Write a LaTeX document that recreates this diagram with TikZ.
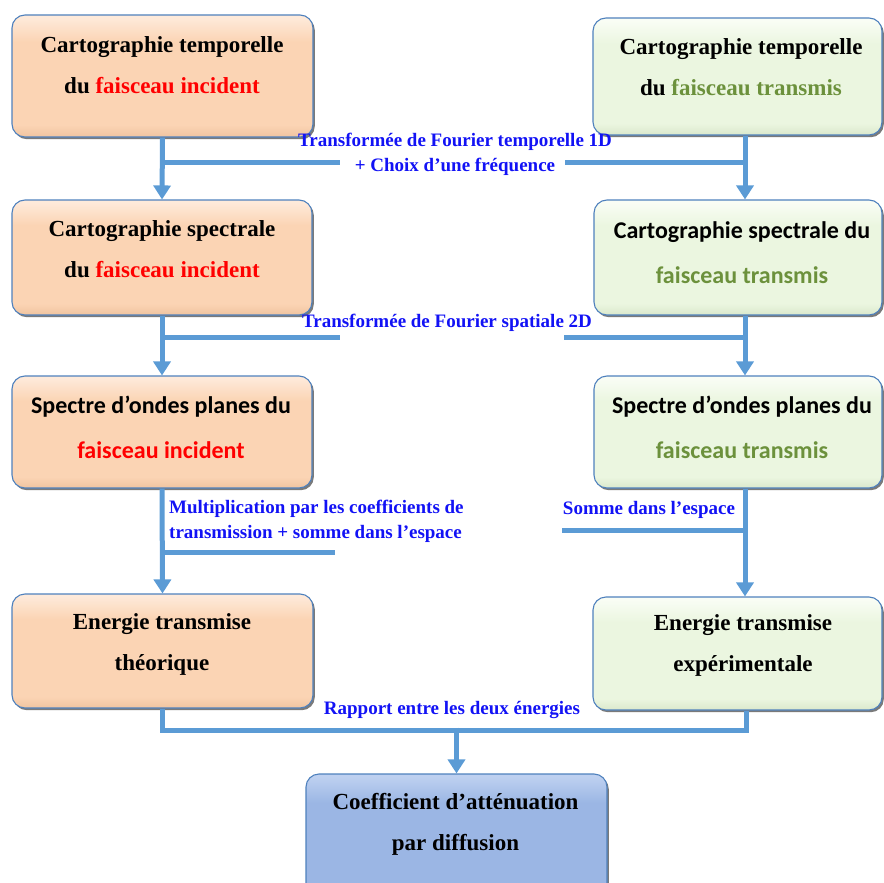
\documentclass[tikz,border=0pt]{standalone}
\usepackage{fontspec}
\setmainfont{Liberation Serif}
\newfontfamily\calib{Carlito}
\usetikzlibrary{arrows.meta,shadows}
\definecolor{peachT}{RGB}{254,234,218}
\definecolor{peachB}{RGB}{251,212,180}
\definecolor{peachD}{RGB}{240,196,160}
\definecolor{greenT}{RGB}{249,253,245}
\definecolor{greenB}{RGB}{235,246,224}
\definecolor{greenD}{RGB}{218,232,204}
\definecolor{blueT}{RGB}{190,208,240}
\definecolor{blueB}{RGB}{155,182,228}
\definecolor{blueD}{RGB}{138,165,212}
\definecolor{edgeblue}{RGB}{79,129,189}
\definecolor{connblue}{RGB}{91,155,213}
\definecolor{lblblue}{RGB}{18,18,245}
\definecolor{txtred}{RGB}{255,0,0}
\definecolor{txtgreen}{RGB}{108,145,60}
\pgfdeclareverticalshading{peachsh}{100bp}{color(0bp)=(peachD); color(25bp)=(peachD); color(30bp)=(peachB); color(64bp)=(peachB); color(74bp)=(peachT); color(100bp)=(peachT)}
\pgfdeclareverticalshading{greensh}{100bp}{color(0bp)=(greenD); color(25bp)=(greenD); color(30bp)=(greenB); color(64bp)=(greenB); color(74bp)=(greenT); color(100bp)=(greenT)}
\pgfdeclareverticalshading{bluesh}{100bp}{color(0bp)=(blueD); color(25bp)=(blueD); color(30bp)=(blueB); color(64bp)=(blueB); color(74bp)=(blueT); color(100bp)=(blueT)}
\tikzset{
  boxbase/.style={draw=edgeblue, line width=1.1pt, rounded corners=13pt,
    drop shadow={shadow xshift=1.8pt, shadow yshift=-2.2pt, opacity=0.65, fill=black!80}},
  lbox/.style={boxbase, shading=peachsh},
  rbox/.style={boxbase, shading=greensh},
  bbox/.style={boxbase, shading=bluesh},
  stxt/.style={align=center, inner sep=0pt, font=\fontsize{23}{41}\selectfont\bfseries},
  ctxt/.style={align=center, inner sep=0pt, font=\calib\fontsize{24}{45}\selectfont\bfseries},
  lbl/.style={inner sep=0pt, text=lblblue, font=\fontsize{19}{25}\selectfont\bfseries},
  conn/.style={draw=connblue, line width=5pt},
  arr/.style={conn, -{Triangle[width=17pt,length=14pt]}}
}
\begin{document}
\begin{tikzpicture}[x=1pt,y=-1pt]
\clip (0,0) rectangle (884,883);
\useasboundingbox (0,0) rectangle (884,883);
% boxes
\node[lbox, minimum width=301pt, minimum height=122pt] (L1) at (162.5,76) {};
\node[lbox, minimum width=300pt, minimum height=115pt] (L2) at (162,257.5) {};
\node[lbox, minimum width=300pt, minimum height=112pt] (L3) at (162,432) {};
\node[lbox, minimum width=301pt, minimum height=114pt] (L4) at (162.5,651) {};
\node[rbox, minimum width=289pt, minimum height=117pt] (R1) at (737.5,76.5) {};
\node[rbox, minimum width=288pt, minimum height=115pt] (R2) at (738,257.5) {};
\node[rbox, minimum width=288pt, minimum height=112pt] (R3) at (738,432) {};
\node[rbox, minimum width=289pt, minimum height=113pt] (R4) at (737.5,653.5) {};
\node[bbox, minimum width=301pt, minimum height=130pt] (B) at (456.5,839) {};
% box texts
\node[stxt] (L1t) at (162,65) {Cartographie temporelle\\du \textcolor{txtred}{faisceau incident}};
\node[stxt] (L2t) at (162,249.5) {Cartographie spectrale\\du \textcolor{txtred}{faisceau incident}};
\node[ctxt] (L3t) at (161,427) {Spectre d’ondes planes du\\\textcolor{txtred}{faisceau incident}};
\node[stxt] (L4t) at (162,644) {Energie transmise\\théorique};
\node[stxt] (R1t) at (741,67) {Cartographie temporelle\\du \textcolor{txtgreen}{faisceau transmis}};
\node[ctxt] (R2t) at (742,252.5) {Cartographie spectrale du\\\textcolor{txtgreen}{faisceau transmis}};
\node[ctxt] (R3t) at (742,427.5) {Spectre d’ondes planes du\\\textcolor{txtgreen}{faisceau transmis}};
\node[stxt] (R4t) at (743,645.5) {Energie transmise\\expérimentale};
\node[stxt] (Bt) at (455.5,824) {Coefficient d’atténuation\\par diffusion};
% connectors
\draw[arr] (L1.south) -- (L2.north);
\draw[arr] (L2.south) -- (L3.north);
\draw[arr] (L3.south) -- (L4.north);
\draw[arr] ([xshift=7.5pt]R1.south) -- ([xshift=7pt]R2.north);
\draw[arr] ([xshift=7pt]R2.south) -- ([xshift=7pt]R3.north);
\draw[arr] ([xshift=7pt]R3.south) -- ([xshift=7.5pt]R4.north);
% label stubs
\coordinate (s1l) at (340,162);
\coordinate (s1r) at (565,162);
\coordinate (s2l) at (340,337);
\coordinate (s2r) at (564,337);
\coordinate (s3l) at (335,552);
\coordinate (s3r) at (562,530);
\draw[conn] (L1.south |- s1l) -- (s1l);
\draw[conn] (s1r) -- ([xshift=7.5pt]R1.south |- s1r);
\draw[conn] (L2.south |- s2l) -- (s2l);
\draw[conn] (s2r) -- ([xshift=7pt]R2.south |- s2r);
\draw[conn] (L3.south |- s3l) -- (s3l);
\draw[conn] (s3r) -- ([xshift=7pt]R3.south |- s3r);
% bottom join
\coordinate (jn) at (456.5,730);
\draw[conn] (L4.south) |- (jn) -| ([xshift=8.5pt]R4.south);
\draw[arr] ([yshift=2.5pt]jn) -- (B.north);
% labels
\node[lbl, align=center] (T1) at (455,154.5) {Transformée de Fourier temporelle 1D\\+ Choix d’une fréquence};
\node[lbl] (T2) at (447,323) {Transformée de Fourier spatiale 2D};
\node[lbl, align=left, anchor=west] (T3) at (169,521.5) {Multiplication par les coefficients de\\transmission + somme dans l’espace};
\node[lbl] (T4) at (649,510) {Somme dans l’espace};
\node[lbl] (T5) at (452,710) {Rapport entre les deux énergies};
\end{tikzpicture}
\end{document}
